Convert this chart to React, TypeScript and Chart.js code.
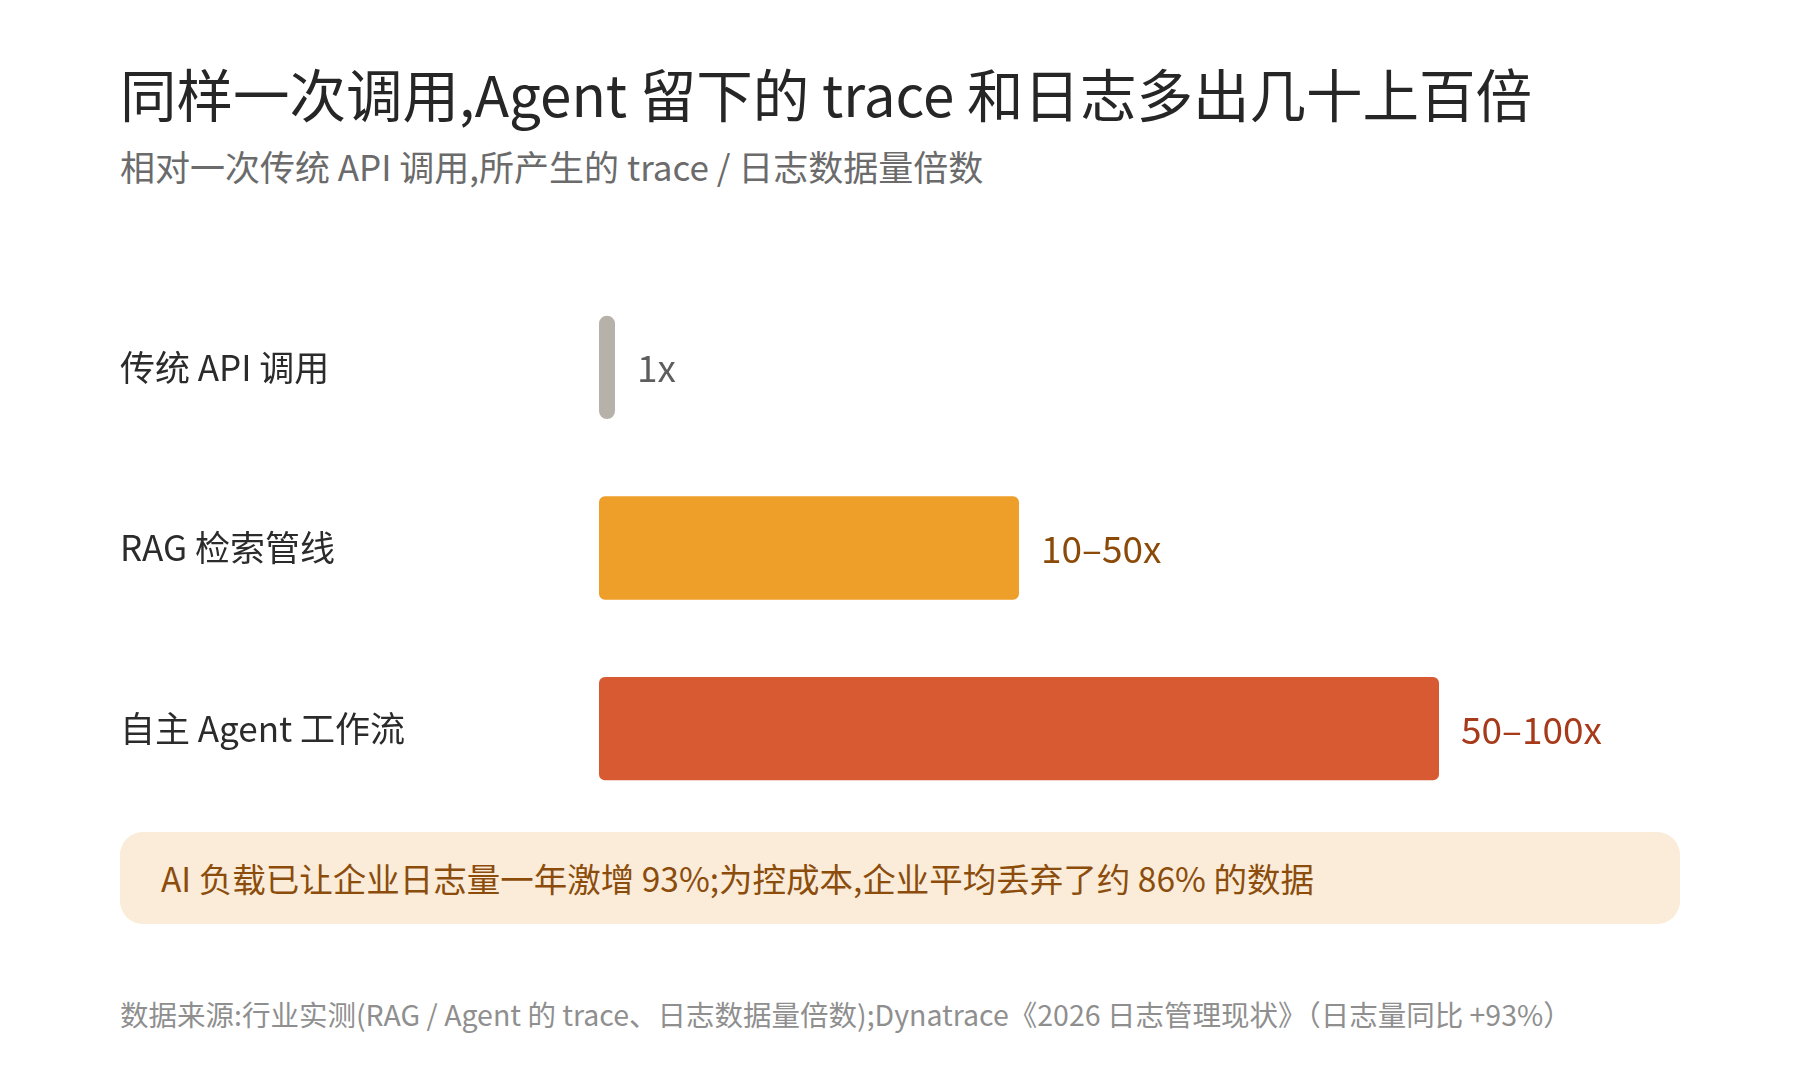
import { useEffect, useRef } from "react"
import { Chart, registerables } from "chart.js"

Chart.register(...registerables)

const categories = ["传统 API 调用", "RAG 检索管线", "自主 Agent 工作流"]
const multipliers = [1, 50, 100]
const valueLabels = ["1x", "10–50x", "50–100x"]

const barColors = ["#b6b2a9", "#ee9f29", "#d85a32"]
const labelColors = ["#5e5e5e", "#8b4a08", "#a63a1a"]

const FONT = '"Noto Sans CJK SC", "Noto Sans", sans-serif'

export default function App() {
  const chartRef = useRef<HTMLCanvasElement>(null)
  const chartInstance = useRef<Chart | null>(null)

  useEffect(() => {
    if (!chartRef.current) return
    if (chartInstance.current) chartInstance.current.destroy()
    const ctx = chartRef.current.getContext("2d")
    if (!ctx) return

    // draw "1x", "10–50x" ... at the end of each bar
    const valueLabelPlugin = {
      id: "valueLabels",
      afterDatasetsDraw(chart: Chart) {
        const c = chart.ctx
        const meta = chart.getDatasetMeta(0)
        c.save()
        c.font = `37px ${FONT}`
        c.textAlign = "left"
        c.textBaseline = "middle"
        meta.data.forEach((bar: any, i: number) => {
          c.fillStyle = labelColors[i]
          c.fillText(valueLabels[i], bar.x + 22, bar.y + 1)
        })
        c.restore()
      },
    }

    chartInstance.current = new Chart(ctx, {
      type: "bar",
      data: {
        labels: categories,
        datasets: [
          {
            data: multipliers,
            backgroundColor: barColors,
            borderRadius: [8, 6, 6],
            borderSkipped: false,
            minBarLength: 16,
            barPercentage: 0.572,
            categoryPercentage: 1,
          },
        ],
      },
      options: {
        indexAxis: "y",
        responsive: true,
        maintainAspectRatio: false,
        animation: false,
        layout: { padding: 0 },
        plugins: {
          legend: { display: false },
          tooltip: { enabled: false },
        },
        scales: {
          x: {
            display: false,
            min: 0,
            max: 120,
          },
          y: {
            grid: { display: false },
            border: { display: false },
            ticks: {
              crossAlign: "far",
              color: "#2b2b2b",
              font: { family: FONT, size: 35 },
            },
            afterFit(scale: any) {
              scale.width = 479
            },
          },
        },
      },
      plugins: [valueLabelPlugin],
    })

    return () => {
      if (chartInstance.current) {
        chartInstance.current.destroy()
        chartInstance.current = null
      }
    }
  }, [])

  return (
    <div
      style={{
        position: "absolute",
        left: 0,
        top: 0,
        width: 1800,
        height: 1080,
        background: "#ffffff",
        fontFamily: FONT,
      }}
    >
      <div
        style={{
          position: "absolute",
          left: 120,
          top: 64,
          fontSize: 56.5,
          lineHeight: "57px",
          fontWeight: 400,
          color: "#262626",
          whiteSpace: "nowrap",
        }}
      >
        同样一次调用,Agent 留下的 trace 和日志多出几十上百倍
      </div>
      <div
        style={{
          position: "absolute",
          left: 120,
          top: 148,
          fontSize: 35,
          lineHeight: "35px",
          color: "#6b6b6b",
          whiteSpace: "nowrap",
        }}
      >
        相对一次传统 API 调用,所产生的 trace / 日志数据量倍数
      </div>

      <div style={{ position: "absolute", left: 120, top: 253, width: 1487, height: 590 }}>
        <canvas ref={chartRef}></canvas>
      </div>

      <div
        style={{
          position: "absolute",
          left: 120,
          top: 832,
          width: 1560,
          height: 92,
          borderRadius: 23,
          background: "#faecd9",
        }}
      >
        <div
          style={{
            position: "absolute",
            left: 41,
            top: 28,
            fontSize: 33.5,
            lineHeight: "35px",
            color: "#8b4c0c",
            whiteSpace: "nowrap",
          }}
        >
          AI 负载已让企业日志量一年激增 93%;为控成本,企业平均丢弃了约 86% 的数据
        </div>
      </div>

      <div
        style={{
          position: "absolute",
          left: 120,
          top: 999,
          fontSize: 28.5,
          lineHeight: "29px",
          color: "#8f8f8f",
          whiteSpace: "nowrap",
        }}
      >
        数据来源:行业实测(RAG / Agent 的 trace、日志数据量倍数);Dynatrace《2026 日志管理现状》（日志量同比 +93%）
      </div>
    </div>
  )
}
